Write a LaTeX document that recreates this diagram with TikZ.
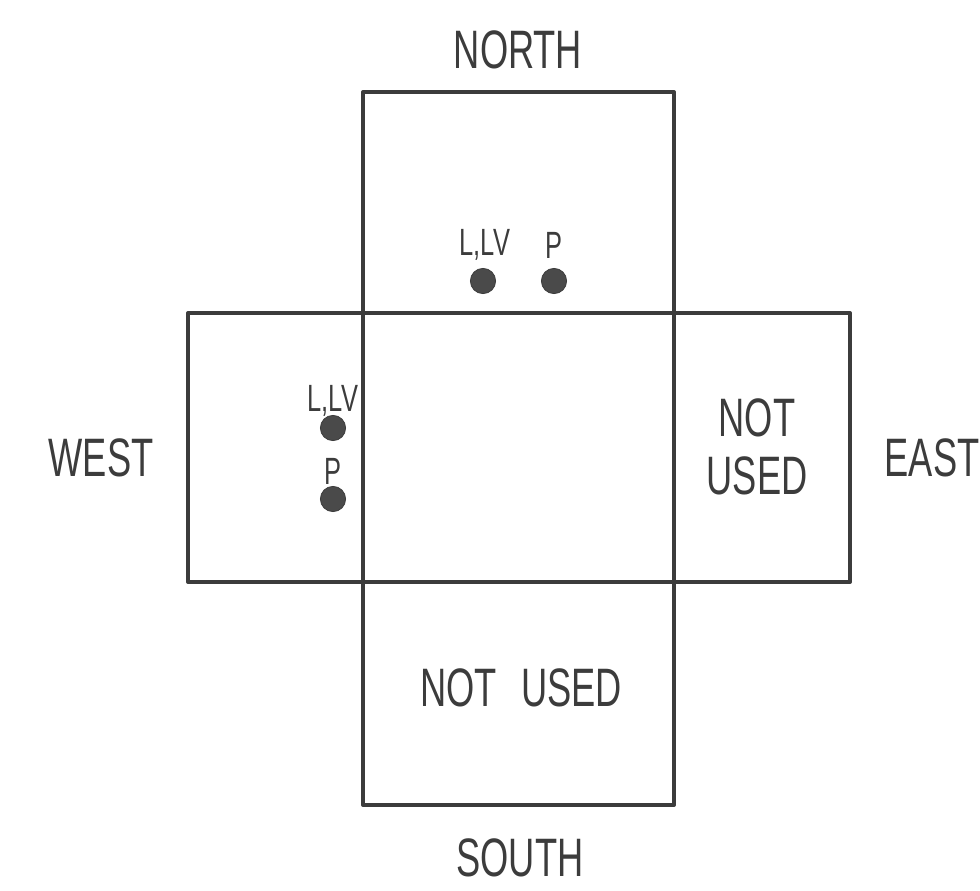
\documentclass[tikz,border=0pt]{standalone}
\usepackage{fontspec}
\setmainfont[FakeStretch=0.67]{Liberation Sans}
\definecolor{ink}{HTML}{3C3C3C}
\definecolor{dotc}{HTML}{4A4A4A}
\begin{document}
\begin{tikzpicture}[x=0.025cm,y=-0.025cm,
  box/.style={draw=ink,line width=2.85pt,line join=round},
  big/.style={text=ink,font=\fontsize{38.5}{44}\selectfont,inner sep=0pt,anchor=center},
  small/.style={text=ink,font=\fontsize{27}{31}\selectfont,inner sep=0pt,anchor=center},
  dotm/.style={circle,fill=dotc,draw=ink,line width=0.6pt,minimum size=0.63cm,inner sep=0pt}]
\useasboundingbox (0,0) rectangle (980,890);
% boxes
\draw[box] (363,92) rectangle (674,313);
\draw[box] (363,582) rectangle (674,805);
\draw[box] (188,313) rectangle (850,582);
\draw[box] (363,313) -- (363,582);
\draw[box] (674,313) -- (674,582);
% outer labels
\node[big] (north) at (518,50) {NORTH};
\node[big] (south) at (520,858) {SOUTH};
\node[big] (west) at (101,458) {WEST};
\node[big] (east) at (932,458) {EAST};
% not used
\node[big] (nuS) at (521,688) {NOT\hspace{0.45em}USED};
\node[big] (nuE1) at (757,418) {NOT};
\node[big] (nuE2) at (757,476) {USED};
% dots
\node[dotm] (nL) at (483,281) {};
\node[dotm] (nP) at (554,281) {};
\node[dotm] (wL) at (333,428) {};
\node[dotm] (wP) at (333,499) {};
\node[small] (nLt) at (485,245) {L,LV};
\node[small] (nPt) at (554,245) {P};
\node[small] (wLt) at (333,401) {L,LV};
\node[small] (wPt) at (333,471) {P};
\end{tikzpicture}
\end{document}
